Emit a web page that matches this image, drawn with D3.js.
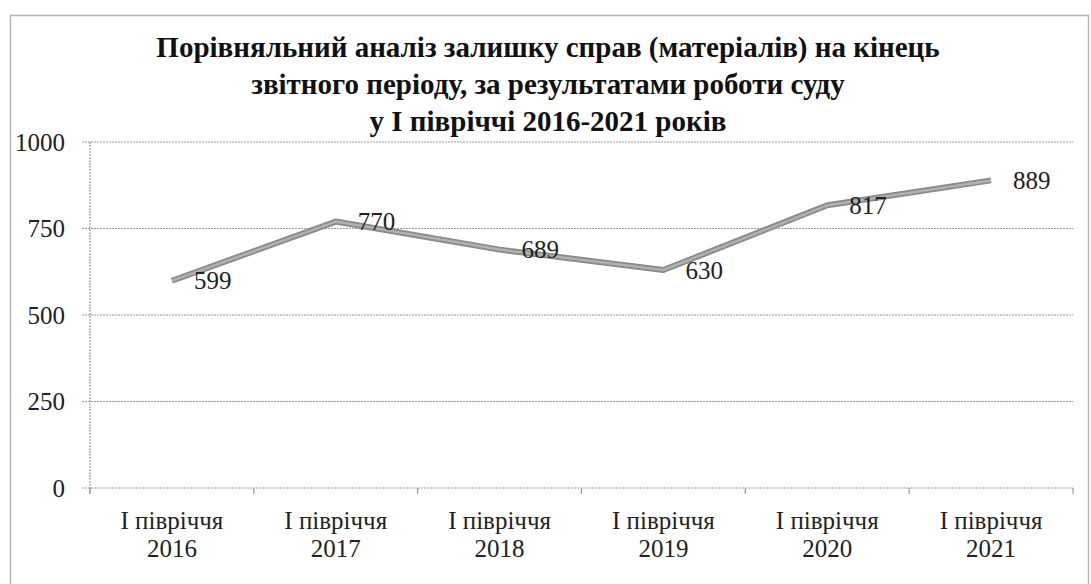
<!DOCTYPE html>
<html><head><meta charset="utf-8">
<script src="https://cdn.jsdelivr.net/npm/d3@7"></script>
<style>html,body{margin:0;padding:0;background:#fff;}svg{display:block;}</style>
</head><body>
<script>
const categories = ["І півріччя 2016","І півріччя 2017","І півріччя 2018","І півріччя 2019","І півріччя 2020","І півріччя 2021"];
const values = [599, 770, 689, 630, 817, 889];
const yTicks = [0, 250, 500, 750, 1000];
const titleLines = ["Порівняльний аналіз залишку справ (матеріалів) на кінець","звітного періоду,  за результатами роботи суду","у І півріччі 2016-2021 років"];

const W = 1091, H = 584;
const FONT = '"Liberation Serif"';
const m = {left: 90, right: 18, top: 142, bottom: 96};
const svg = d3.select("body").append("svg").attr("width", W).attr("height", H);

// outer frame
svg.append("rect").attr("x", 10.5).attr("y", 15.5).attr("width", 1078).attr("height", 600)
  .attr("fill", "none").attr("stroke", "#b5b5b5").attr("stroke-width", 1.5);

const x = d3.scaleBand().domain(categories).range([m.left, W - m.right]);
const y = d3.scaleLinear().domain([0, 1000]).range([H - m.bottom, m.top]);

// gridlines
svg.append("g").selectAll("line").data(yTicks).join("line")
  .attr("x1", m.left - 8).attr("x2", W - m.right)
  .attr("y1", d => y(d)).attr("y2", d => y(d))
  .attr("stroke", "#9a9a9a").attr("stroke-width", 1.2).attr("stroke-dasharray", "2,1");

// y axis line
svg.append("line").attr("x1", m.left).attr("x2", m.left).attr("y1", y(1000)).attr("y2", y(0) + 6)
  .attr("stroke", "#9a9a9a").attr("stroke-width", 1.2).attr("stroke-dasharray", "2,1");

// y tick labels
svg.append("g").selectAll("text").data(yTicks).join("text")
  .style("font-family", FONT).style("font-size", "25px")
  .attr("x", m.left - 25).attr("y", d => y(d)).attr("dy", "0.35em")
  .attr("text-anchor", "end").attr("fill", "#222")
  .text(d => d);

// x category boundary ticks
const bounds = categories.map(c => x(c)).concat([W - m.right]);
svg.append("g").selectAll("line").data(bounds).join("line")
  .attr("x1", d => d).attr("x2", d => d).attr("y1", y(0)).attr("y2", y(0) + 6)
  .attr("stroke", "#9a9a9a").attr("stroke-width", 1.2);

// x labels (two lines each)
const cx = d => x(d) + x.bandwidth() / 2;
svg.append("g").selectAll("text").data(categories).join("text")
  .style("font-family", FONT).style("font-size", "25px")
  .attr("x", cx).attr("y", 529)
  .attr("text-anchor", "middle").attr("fill", "#222")
  .text(d => d.split(" ").slice(0, 2).join(" "));
svg.append("g").selectAll("text").data(categories).join("text")
  .style("font-family", FONT).style("font-size", "25px")
  .attr("x", cx).attr("y", 557)
  .attr("text-anchor", "middle").attr("fill", "#222")
  .text(d => d.split(" ")[2]);

// line
const data = categories.map((c, i) => ({c, v: values[i]}));
const line = d3.line().x(d => cx(d.c)).y(d => y(d.v));
svg.append("path").datum(data).attr("d", line).attr("fill", "none")
  .attr("stroke", "#8a8a8a").attr("stroke-width", 6).attr("stroke-linejoin", "round");
svg.append("path").datum(data).attr("d", line).attr("fill", "none")
  .attr("stroke", "#b0b0b0").attr("stroke-width", 2.5).attr("stroke-linejoin", "round");

// data labels
svg.append("g").selectAll("text").data(data).join("text")
  .style("font-family", FONT).style("font-size", "25px")
  .attr("x", d => cx(d.c) + 22).attr("y", d => y(d.v)).attr("dy", "0.35em")
  .attr("fill", "#222")
  .text(d => d.v);

// title
svg.append("g").selectAll("text").data(titleLines).join("text")
  .style("font-family", FONT).style("font-size", "29px").style("font-weight", "bold")
  .attr("x", 548).attr("y", (d, i) => 57 + i * 37)
  .attr("text-anchor", "middle").attr("fill", "#111").text(d => d);
</script>
</body></html>
